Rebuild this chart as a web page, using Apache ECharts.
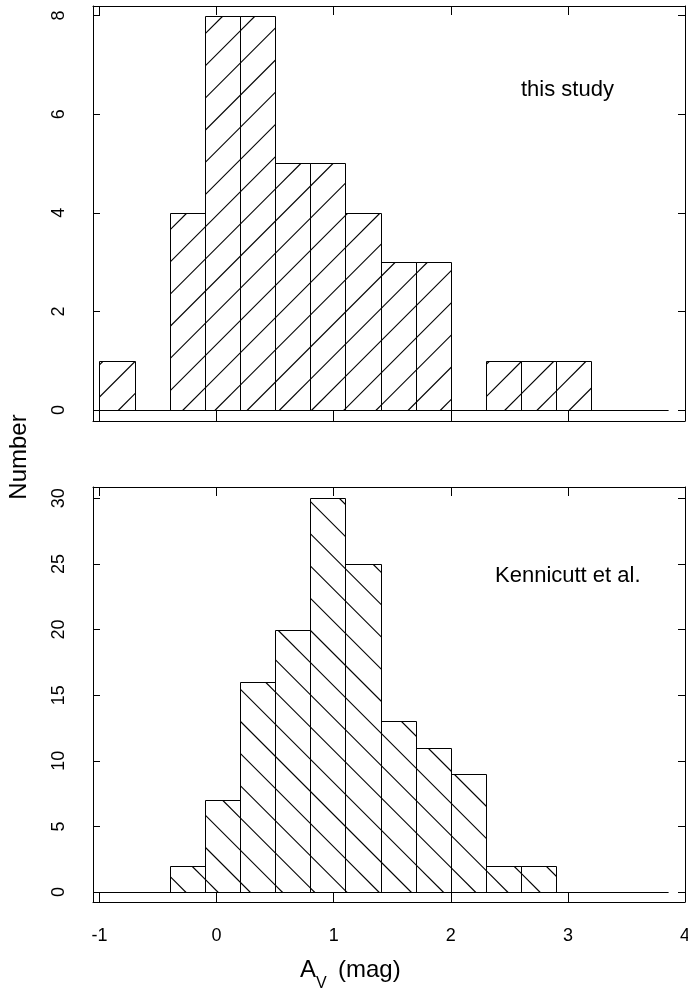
<!DOCTYPE html>
<html>
<head>
<meta charset="utf-8">
<script src="https://cdn.jsdelivr.net/npm/echarts@6/dist/echarts.min.js"></script>
<style>
html,body{margin:0;padding:0;background:#fff;}
#chart{width:688px;height:989px;}
</style>
</head>
<body>
<div id="chart"></div>
<script>
// ---- data ----
const binEdges = [-1.0, -0.7, -0.4, -0.1, 0.2, 0.5, 0.8, 1.1, 1.4, 1.7, 2.0, 2.3, 2.6, 2.9, 3.2];
const thisStudyCounts = [1, 0, 4, 8, 8, 5, 5, 4, 3, 3, 0, 1, 1, 1];
const kennicuttCounts = [0, 0, 2, 7, 16, 20, 30, 25, 13, 11, 9, 2, 2, 0];
const xTicks = [-1, 0, 1, 2, 3, 4];
const topYTicks = [0, 2, 4, 6, 8];
const bottomYTicks = [0, 5, 10, 15, 20, 25, 30];
const panelLabels = ['this study', 'Kennicutt et al.'];
const yAxisTitle = 'Number';

// ---- layout / style ----
const FONT = '"Liberation Sans", Arial, Helvetica, sans-serif';
const xMin = -1.055, xMax = 4.0;
const baselineEnd = 3.86;
const hatchGap = 32.2;

const chart = echarts.init(document.getElementById('chart'), null, {renderer: 'canvas'});

function histSeries(counts, gridIdx, dir, phase) {
  const data = [];
  counts.forEach((c, i) => { if (c > 0) data.push([binEdges[i], binEdges[i + 1], c]); });
  return {
    type: 'custom',
    xAxisIndex: gridIdx * 2,
    yAxisIndex: gridIdx * 2,
    data: data,
    encode: {x: [0, 1], y: 2},
    silent: true,
    z: 3,
    renderItem: function (params, api) {
      const p0 = api.coord([api.value(0), 0]);
      const p1 = api.coord([api.value(1), api.value(2)]);
      const L = Math.round(p0[0]) + 0.5, R = Math.round(p1[0]) + 0.5;
      const T = Math.round(p1[1]) + 0.5, B = Math.round(p0[1]) + 0.5;
      const children = [];
      if (dir > 0) {
        // "/" lines: x + y = c
        const cMin = L + T, cMax = R + B;
        let k = Math.ceil((cMin - phase) / hatchGap);
        for (let c = phase + k * hatchGap; c <= cMax; c += hatchGap) {
          const xa = Math.max(L, c - B), xb = Math.min(R, c - T);
          if (xb - xa > 0.3) {
            children.push({type: 'line', shape: {x1: xa, y1: c - xa, x2: xb, y2: c - xb},
              style: {stroke: '#000', lineWidth: 1.1}});
          }
        }
      } else {
        // "\" lines: y - x = c
        const cMin = T - R, cMax = B - L;
        let k = Math.ceil((cMin - phase) / hatchGap);
        for (let c = phase + k * hatchGap; c <= cMax; c += hatchGap) {
          const xa = Math.max(L, T - c), xb = Math.min(R, B - c);
          if (xb - xa > 0.3) {
            children.push({type: 'line', shape: {x1: xa, y1: xa + c, x2: xb, y2: xb + c},
              style: {stroke: '#000', lineWidth: 1.1}});
          }
        }
      }
      children.push({type: 'rect', shape: {x: L, y: T, width: R - L, height: B - T},
        style: {fill: 'none', stroke: '#000', lineWidth: 1}});
      return {type: 'group', children: children};
    }
  };
}

function baselineSeries(gridIdx) {
  return {
    type: 'custom', xAxisIndex: gridIdx * 2, yAxisIndex: gridIdx * 2,
    data: [[xMin, baselineEnd]], silent: true, z: 2,
    renderItem: function (params, api) {
      const a = api.coord([api.value(0), 0]);
      const b = api.coord([api.value(1), 0]);
      const y = Math.round(a[1]) + 0.5;
      return {type: 'line', shape: {x1: a[0], y1: y, x2: b[0], y2: y},
        style: {stroke: '#000', lineWidth: 1}};
    }
  };
}

function xAxes(gridIdx, showLabels) {
  const common = {
    type: 'value', gridIndex: gridIdx, min: xMin, max: xMax,
    splitLine: {show: false},
    axisLine: {show: true, onZero: false, lineStyle: {color: '#000', width: 1}}
  };
  return [
    Object.assign({}, common, {
      position: 'bottom',
      axisTick: {show: true, inside: true, length: 10, customValues: xTicks, lineStyle: {color: '#000'}},
      axisLabel: {show: showLabels, customValues: xTicks, margin: 25, fontSize: 18,
        fontFamily: FONT, color: '#000'}
    }),
    Object.assign({}, common, {
      position: 'top',
      axisTick: {show: true, inside: true, length: 9, customValues: xTicks, lineStyle: {color: '#000'}},
      axisLabel: {show: false}
    })
  ];
}

function yAxes(gridIdx, min, max, ticks) {
  const common = {
    type: 'value', gridIndex: gridIdx, min: min, max: max,
    splitLine: {show: false},
    axisLine: {show: true, onZero: false, lineStyle: {color: '#000', width: 1}}
  };
  return [
    Object.assign({}, common, {
      position: 'left',
      axisTick: {show: true, inside: true, length: 7, customValues: ticks, lineStyle: {color: '#000'}},
      axisLabel: {show: true, customValues: ticks, rotate: 90, margin: 25, fontSize: 18,
        fontFamily: FONT, color: '#000'}
    }),
    Object.assign({}, common, {
      position: 'right',
      axisTick: {show: true, inside: true, length: 7, customValues: ticks, lineStyle: {color: '#000'}},
      axisLabel: {show: false}
    })
  ];
}

const option = {
  backgroundColor: '#fff',
  animation: false,
  grid: [
    {left: 93, top: 6, width: 592, height: 415, outerBoundsMode: 'none', containLabel: false},
    {left: 93, top: 487, width: 592, height: 415, outerBoundsMode: 'none', containLabel: false}
  ],
  xAxis: [].concat(xAxes(0, false), xAxes(1, true)),
  yAxis: [].concat(yAxes(0, -0.223, 8.193, topYTicks), yAxes(1, -0.762, 30.86, bottomYTicks)),
  series: [
    baselineSeries(0),
    baselineSeries(1),
    histSeries(thisStudyCounts, 0, 1, 13.5),
    histSeries(kennicuttCounts, 1, -1, 30.2)
  ],
  graphic: [
    {type: 'text', left: 521, top: 79, silent: true,
      style: {text: panelLabels[0], font: '22px ' + FONT, fill: '#000'}},
    {type: 'text', left: 495, top: 565, silent: true,
      style: {text: panelLabels[1], font: '22px ' + FONT, fill: '#000'}},
    {type: 'text', x: 19, y: 457, rotation: Math.PI / 2, silent: true,
      style: {text: yAxisTitle, font: '24px ' + FONT, fill: '#000', align: 'center', verticalAlign: 'middle'}},
    {type: 'text', x: 300, y: 970, silent: true,
      style: {text: 'A', font: '24px ' + FONT, fill: '#000', align: 'left', verticalAlign: 'middle'}},
    {type: 'text', x: 316, y: 984, silent: true,
      style: {text: 'V', font: '16px ' + FONT, fill: '#000', align: 'left', verticalAlign: 'middle'}},
    {type: 'text', x: 338, y: 970, silent: true,
      style: {text: '(mag)', font: '24px ' + FONT, fill: '#000', align: 'left', verticalAlign: 'middle'}}
  ]
};
chart.setOption(option);
</script>
</body>
</html>
